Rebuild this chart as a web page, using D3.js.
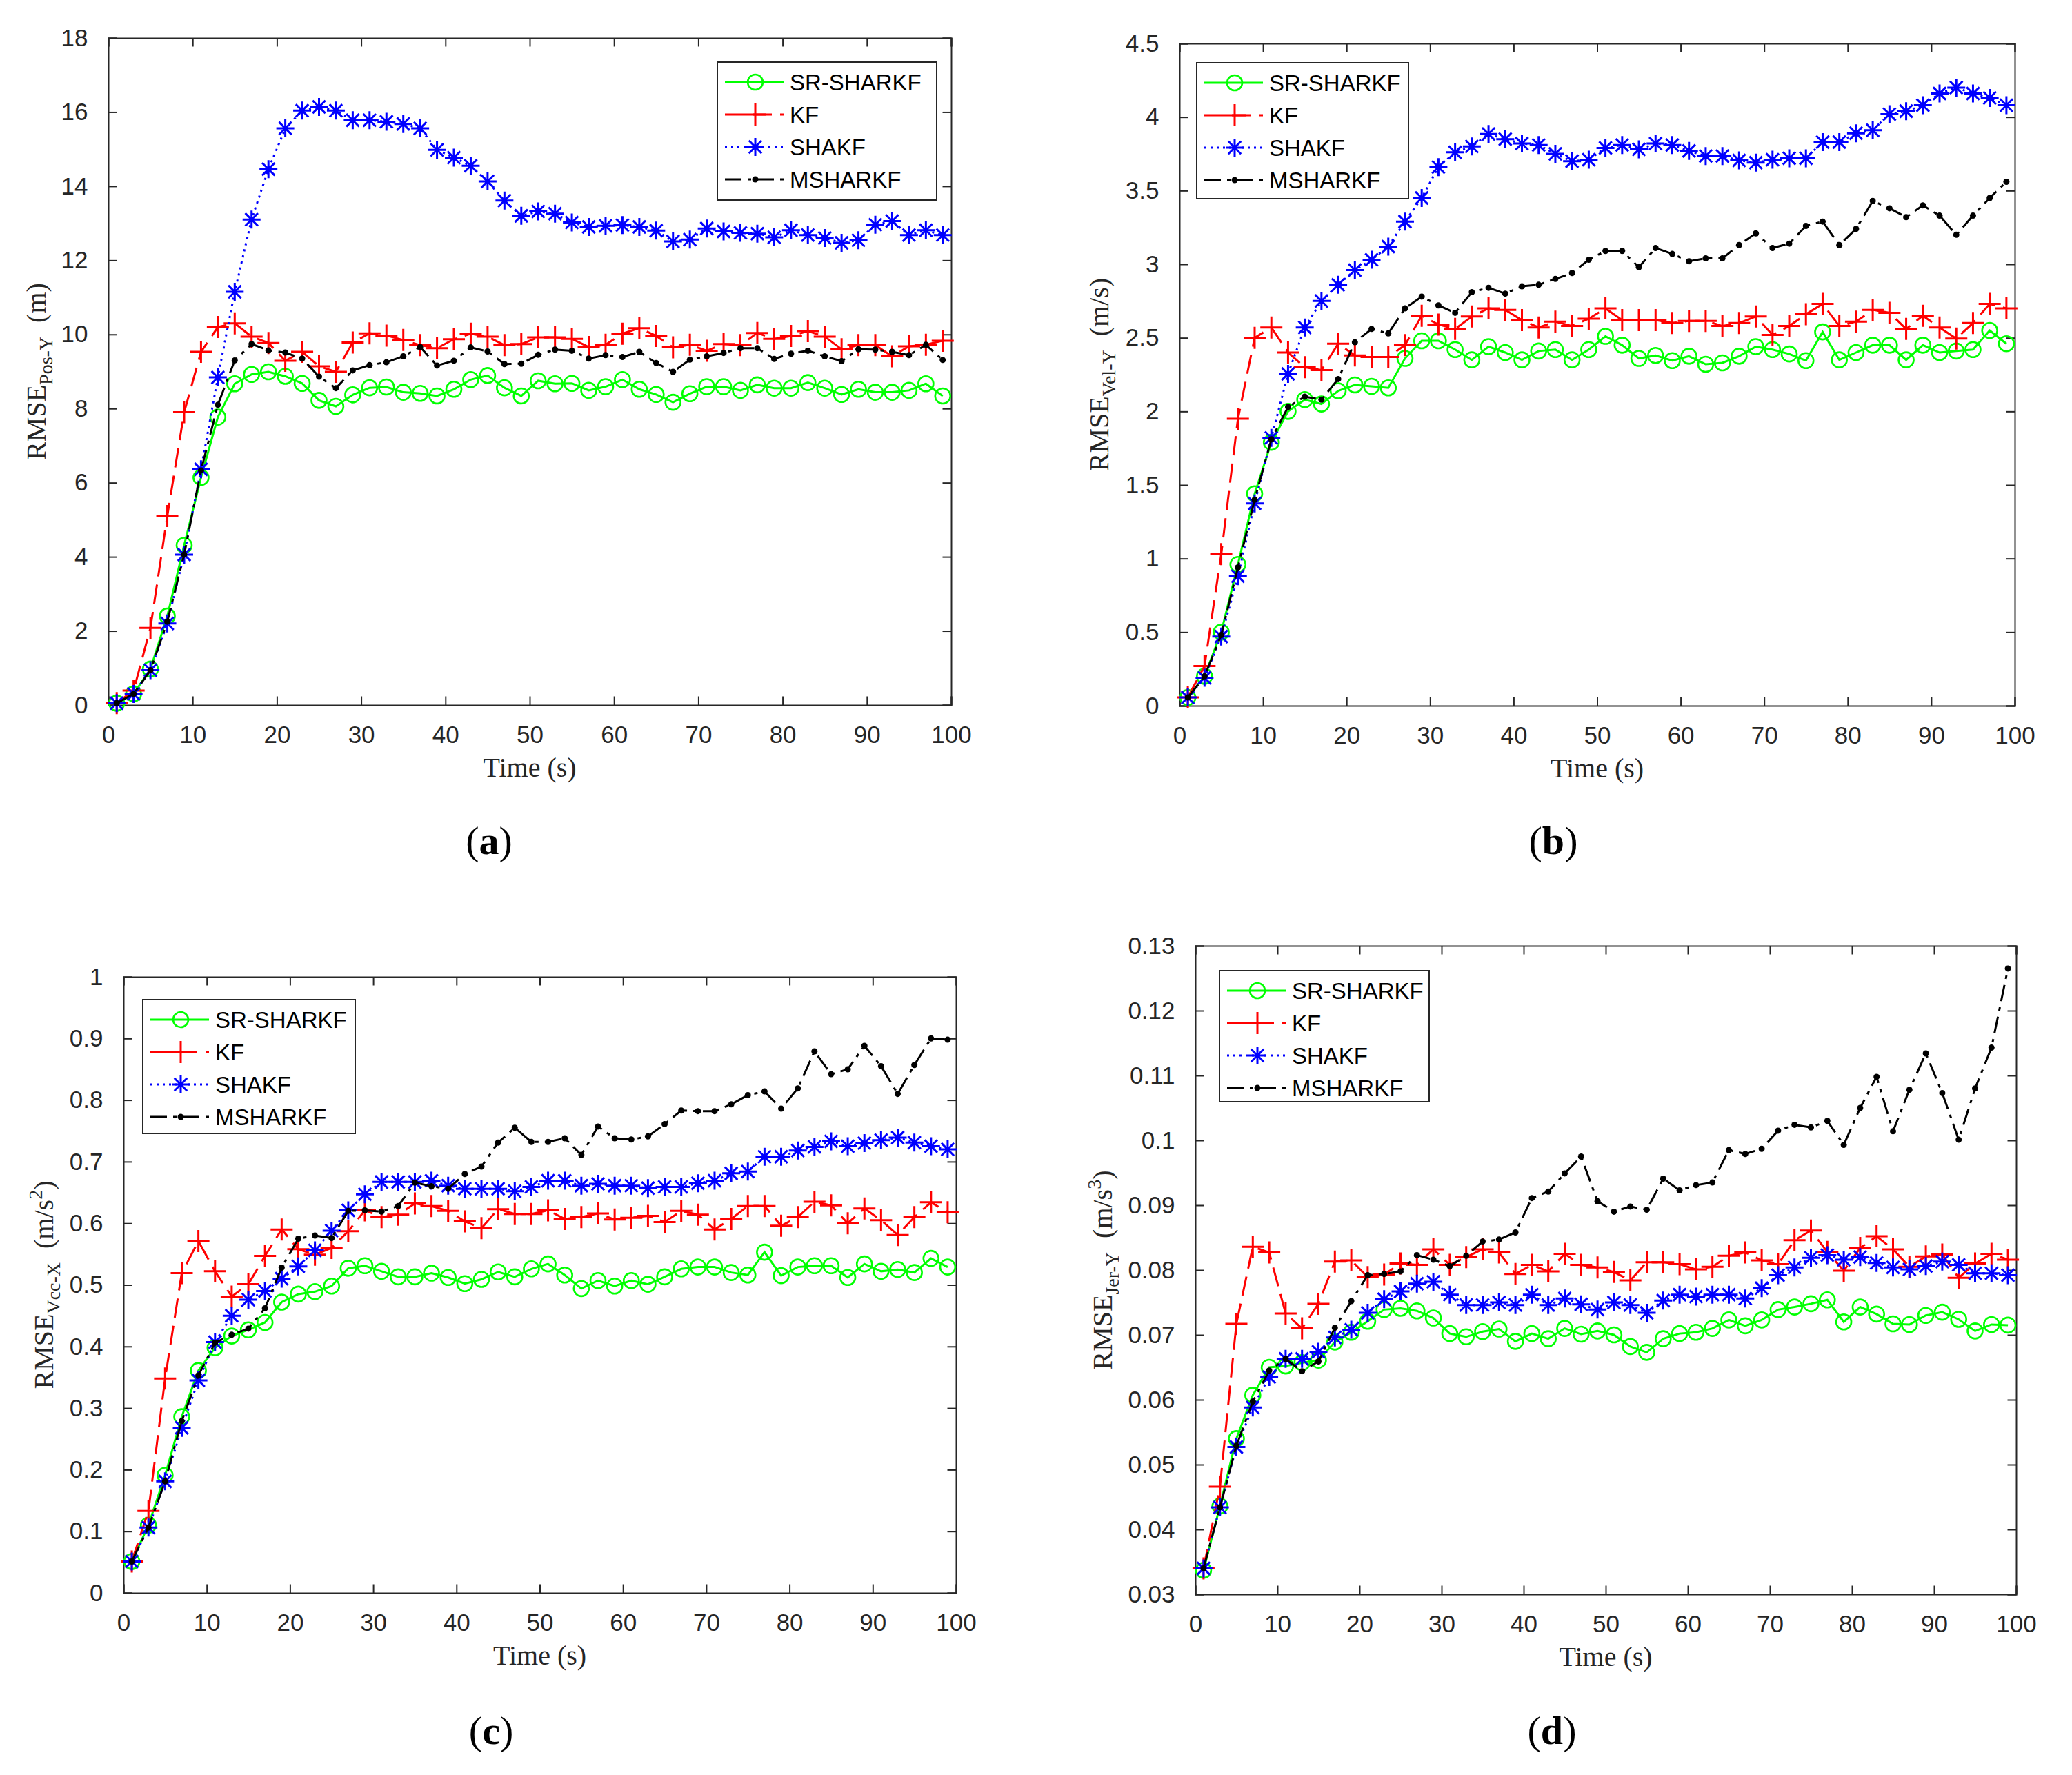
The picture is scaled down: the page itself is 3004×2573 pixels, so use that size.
<!DOCTYPE html>
<html>
<head>
<meta charset="utf-8">
<script src="https://cdn.jsdelivr.net/npm/d3@7"></script>
<style>
  body { margin: 0; background: #fff; }
</style>
</head>
<body>
<svg id="fig" width="3004" height="2573"></svg>
<script>
// ---- data -------------------------------------------------------------
var time = [1, 3, 5, 7, 9, 11, 13, 15, 17, 19, 21, 23, 25, 27, 29, 31, 33, 35, 37, 39,
  41, 43, 45, 47, 49, 51, 53, 55, 57, 59, 61, 63, 65, 67, 69, 71, 73, 75, 77, 79,
  81, 83, 85, 87, 89, 91, 93, 95, 97, 99];

var seriesNames = ['SR-SHARKF', 'KF', 'SHAKF', 'MSHARKF'];

var timeTicks = [0, 10, 20, 30, 40, 50, 60, 70, 80, 90, 100];
var posTicks = [0, 2, 4, 6, 8, 10, 12, 14, 16, 18];
var velTicks = [0, 0.5, 1, 1.5, 2, 2.5, 3, 3.5, 4, 4.5];
var accTicks = [0, 0.1, 0.2, 0.3, 0.4, 0.5, 0.6, 0.7, 0.8, 0.9, 1];
var jerTicks = [0.03, 0.04, 0.05, 0.06, 0.07, 0.08, 0.09, 0.1, 0.11, 0.12, 0.13];

// (a) position Y
var posY_SR = [0.05, 0.3, 0.97, 2.4, 4.31, 6.14, 7.77, 8.67, 8.92, 8.99, 8.87, 8.68, 8.22, 8.06, 8.37, 8.56, 8.58, 8.44, 8.41, 8.34,
  8.52, 8.78, 8.89, 8.56, 8.34, 8.75, 8.67, 8.68, 8.49, 8.59, 8.78, 8.52, 8.38, 8.17, 8.4, 8.59, 8.59, 8.49, 8.64, 8.55,
  8.55, 8.7, 8.55, 8.38, 8.52, 8.44, 8.44, 8.49, 8.67, 8.34];
var posY_KF = [0.05, 0.39, 2.08, 5.1, 7.9, 9.53, 10.2, 10.3, 9.94, 9.77, 9.29, 9.53, 9.14, 8.99, 9.78, 10.03, 9.97, 9.85, 9.71, 9.63,
  9.87, 10.02, 9.94, 9.71, 9.74, 9.92, 9.92, 9.88, 9.66, 9.72, 10.02, 10.17, 9.96, 9.65, 9.72, 9.56, 9.74, 9.71, 10.04, 9.88,
  9.96, 10.09, 9.94, 9.6, 9.71, 9.71, 9.41, 9.68, 9.72, 9.83];
var posY_SHAKF = [0.05, 0.3, 0.94, 2.2, 4.06, 6.36, 8.84, 11.15, 13.1, 14.46, 15.56, 16.04, 16.14, 16.04, 15.78, 15.78, 15.74, 15.68, 15.56, 14.98,
  14.77, 14.55, 14.13, 13.61, 13.2, 13.32, 13.26, 13.02, 12.9, 12.93, 12.95, 12.9, 12.8, 12.51, 12.56, 12.86, 12.78, 12.74, 12.72, 12.62,
  12.81, 12.68, 12.6, 12.47, 12.54, 12.96, 13.06, 12.68, 12.81, 12.68];
var posY_MS = [0.05, 0.3, 0.94, 2.25, 4.06, 6.33, 8.1, 9.3, 9.74, 9.57, 9.51, 9.35, 8.86, 8.55, 9.03, 9.17, 9.25, 9.41, 9.66, 9.16,
  9.29, 9.65, 9.54, 9.2, 9.21, 9.45, 9.59, 9.56, 9.35, 9.44, 9.39, 9.53, 9.23, 8.99, 9.32, 9.41, 9.5, 9.63, 9.63, 9.34,
  9.48, 9.56, 9.41, 9.28, 9.6, 9.59, 9.53, 9.44, 9.72, 9.31];

// (b) velocity Y
var velY_SR = [0.056, 0.2, 0.5, 0.96, 1.44, 1.79, 2.0, 2.08, 2.05, 2.14, 2.18, 2.17, 2.16, 2.36, 2.48, 2.48, 2.42, 2.35, 2.44, 2.4,
  2.35, 2.41, 2.42, 2.35, 2.42, 2.51, 2.45, 2.36, 2.38, 2.345, 2.375, 2.32, 2.33, 2.375, 2.44, 2.42, 2.39, 2.345, 2.54, 2.35,
  2.4, 2.45, 2.45, 2.35, 2.45, 2.4, 2.41, 2.42, 2.55, 2.46];
var velY_KF = [0.056, 0.27, 1.03, 1.95, 2.5, 2.57, 2.4, 2.3, 2.28, 2.46, 2.38, 2.37, 2.37, 2.45, 2.65, 2.59, 2.56, 2.645, 2.7, 2.69,
  2.62, 2.57, 2.61, 2.58, 2.63, 2.7, 2.62, 2.62, 2.62, 2.6, 2.615, 2.615, 2.58, 2.6, 2.645, 2.52, 2.58, 2.66, 2.73, 2.58,
  2.61, 2.69, 2.67, 2.56, 2.65, 2.57, 2.495, 2.6, 2.73, 2.7];
var velY_SHAKF = [0.056, 0.19, 0.47, 0.88, 1.375, 1.82, 2.255, 2.57, 2.75, 2.86, 2.96, 3.03, 3.12, 3.29, 3.45, 3.66, 3.76, 3.8, 3.885, 3.85,
  3.82, 3.81, 3.75, 3.7, 3.71, 3.79, 3.81, 3.78, 3.82, 3.81, 3.77, 3.735, 3.735, 3.705, 3.69, 3.71, 3.72, 3.72, 3.83, 3.83,
  3.89, 3.91, 4.02, 4.04, 4.08, 4.16, 4.2, 4.16, 4.13, 4.08];
var velY_MS = [0.056, 0.2, 0.48, 0.94, 1.4, 1.81, 2.03, 2.1, 2.08, 2.22, 2.47, 2.56, 2.53, 2.7, 2.78, 2.72, 2.67, 2.81, 2.84, 2.8,
  2.85, 2.86, 2.9, 2.94, 3.03, 3.09, 3.09, 2.98, 3.11, 3.07, 3.02, 3.04, 3.04, 3.13, 3.21, 3.11, 3.14, 3.26, 3.29, 3.13,
  3.24, 3.43, 3.38, 3.32, 3.4, 3.33, 3.2, 3.33, 3.45, 3.56];

// (c) acceleration X
var accX_SR = [0.051, 0.11, 0.191, 0.286, 0.361, 0.398, 0.417, 0.427, 0.439, 0.472, 0.485, 0.489, 0.498, 0.527, 0.531, 0.522, 0.513, 0.513, 0.519, 0.512,
  0.502, 0.509, 0.521, 0.513, 0.526, 0.534, 0.516, 0.494, 0.507, 0.498, 0.507, 0.501, 0.513, 0.526, 0.529, 0.529, 0.52, 0.516, 0.553, 0.515,
  0.529, 0.531, 0.531, 0.512, 0.534, 0.522, 0.525, 0.52, 0.543, 0.529];
var accX_KF = [0.051, 0.133, 0.348, 0.519, 0.571, 0.522, 0.481, 0.501, 0.547, 0.59, 0.558, 0.549, 0.56, 0.587, 0.621, 0.61, 0.614, 0.632, 0.628, 0.62,
  0.603, 0.592, 0.623, 0.615, 0.615, 0.621, 0.607, 0.61, 0.616, 0.606, 0.609, 0.612, 0.602, 0.62, 0.614, 0.59, 0.607, 0.628, 0.628, 0.596,
  0.61, 0.635, 0.629, 0.6, 0.624, 0.605, 0.581, 0.61, 0.634, 0.618];
var accX_SHAKF = [0.051, 0.106, 0.181, 0.268, 0.345, 0.407, 0.45, 0.476, 0.49, 0.51, 0.53, 0.556, 0.588, 0.621, 0.647, 0.667, 0.667, 0.667, 0.669, 0.661,
  0.656, 0.656, 0.656, 0.652, 0.659, 0.669, 0.669, 0.661, 0.664, 0.661, 0.661, 0.657, 0.659, 0.659, 0.665, 0.669, 0.681, 0.684, 0.708, 0.708,
  0.718, 0.724, 0.733, 0.725, 0.73, 0.735, 0.739, 0.731, 0.725, 0.72];
var accX_MS = [0.051, 0.106, 0.181, 0.279, 0.353, 0.406, 0.419, 0.429, 0.462, 0.528, 0.575, 0.58, 0.576, 0.62, 0.621, 0.619, 0.628, 0.666, 0.66, 0.656,
  0.68, 0.692, 0.731, 0.755, 0.732, 0.732, 0.738, 0.711, 0.757, 0.738, 0.736, 0.741, 0.761, 0.783, 0.782, 0.782, 0.793, 0.808, 0.814, 0.786,
  0.819, 0.879, 0.842, 0.85, 0.888, 0.855, 0.81, 0.857, 0.9, 0.898];

// (d) jerk Y
var jerY_SR = [0.0337, 0.0436, 0.054, 0.0607, 0.065, 0.0652, 0.0657, 0.0661, 0.0689, 0.0704, 0.0721, 0.0739, 0.0741, 0.0737, 0.0726, 0.0702, 0.0697, 0.0705, 0.0709, 0.069,
  0.0702, 0.0694, 0.071, 0.0701, 0.0706, 0.07, 0.0682, 0.0673, 0.0694, 0.0702, 0.0704, 0.071, 0.0723, 0.0714, 0.0723, 0.0739, 0.0743, 0.0748, 0.0754, 0.072,
  0.0743, 0.0732, 0.0717, 0.0716, 0.073, 0.0735, 0.0724, 0.0706, 0.0716, 0.0715];
var jerY_KF = [0.034, 0.0466, 0.0717, 0.0836, 0.0827, 0.0733, 0.071, 0.0748, 0.0813, 0.0815, 0.0789, 0.0793, 0.081, 0.0808, 0.0832, 0.0808, 0.082, 0.0832, 0.0827, 0.0794,
  0.0808, 0.0798, 0.0825, 0.0808, 0.0804, 0.0797, 0.0784, 0.0812, 0.0812, 0.0809, 0.0801, 0.0805, 0.0822, 0.0827, 0.0815, 0.0809, 0.0846, 0.0861, 0.0828, 0.0799,
  0.0834, 0.0852, 0.0832, 0.0805, 0.0821, 0.0824, 0.0788, 0.081, 0.0825, 0.0816];
var jerY_SHAKF = [0.034, 0.0434, 0.0527, 0.0588, 0.0635, 0.0663, 0.0663, 0.0674, 0.0696, 0.0708, 0.0734, 0.0755, 0.0767, 0.0779, 0.0782, 0.0762, 0.0746, 0.0746, 0.075, 0.0746,
  0.0762, 0.0746, 0.0756, 0.0747, 0.0739, 0.075, 0.0746, 0.0734, 0.0753, 0.0762, 0.0759, 0.0762, 0.0762, 0.0756, 0.0772, 0.0792, 0.0804, 0.0819, 0.0823, 0.0816,
  0.082, 0.0811, 0.0804, 0.0801, 0.0806, 0.0813, 0.0808, 0.0795, 0.0795, 0.0792];
var jerY_MS = [0.034, 0.0434, 0.0529, 0.0597, 0.0645, 0.0663, 0.0644, 0.0659, 0.0711, 0.0752, 0.0792, 0.0794, 0.0798, 0.0823, 0.0816, 0.0806, 0.0822, 0.0844, 0.0847, 0.0858,
  0.0911, 0.0921, 0.0949, 0.0975, 0.0906, 0.089, 0.0898, 0.0893, 0.0941, 0.0923, 0.0931, 0.0935, 0.0985, 0.0979, 0.0987, 0.1015, 0.1024, 0.102, 0.103, 0.0993,
  0.105, 0.1098, 0.1014, 0.1078, 0.1134, 0.1073, 0.1001, 0.108, 0.1143, 0.1265];

// ---- styles -----------------------------------------------------------
var AXIS = '#262626';
var SANS = 'Liberation Sans, Arial, Helvetica, sans-serif';
var SERIF = 'Liberation Serif, Times New Roman, serif';

var styles = [
  { color: '#00ff00', dash: null, marker: 'circle' },
  { color: '#ff0000', dash: '28,12', marker: 'plus' },
  { color: '#0000ff', dash: '3,6', marker: 'star' },
  { color: '#000000', dash: '24,9,5,9', marker: 'dot' }
];

// layout per panel (axes box: left, top, right, bottom)
var panels = [
  { tag: 'a', box: [157, 55, 1379, 1022], domain: [0, 18], ticks: posTicks,
    series: [posY_SR, posY_KF, posY_SHAKF, posY_MS],
    sub: 'Pos-Y', unit: 'm', pow: null, labelX: 66,
    legend: [1040, 90, 318, 200], tagPos: [709, 1238] },
  { tag: 'b', box: [1710, 63, 2921, 1023], domain: [0, 4.5], ticks: velTicks,
    series: [velY_SR, velY_KF, velY_SHAKF, velY_MS],
    sub: 'Vel-Y', unit: 'm/s', pow: null, labelX: 1607,
    legend: [1735, 91, 307, 197], tagPos: [2252, 1238] },
  { tag: 'c', box: [179, 1416, 1386, 2309], domain: [0, 1], ticks: accTicks,
    series: [accX_SR, accX_KF, accX_SHAKF, accX_MS],
    sub: 'Vcc-X', unit: 'm/s', pow: '2', labelX: 77,
    legend: [207, 1449, 308, 194], tagPos: [712, 2528] },
  { tag: 'd', box: [1733, 1371, 2923, 2311], domain: [0.03, 0.13], ticks: jerTicks,
    series: [jerY_SR, jerY_KF, jerY_SHAKF, jerY_MS],
    sub: 'Jer-Y', unit: 'm/s', pow: '3', labelX: 1612,
    legend: [1768, 1407, 304, 190], tagPos: [2250, 2528] }
];

var svg = d3.select('#fig');
svg.append('rect').attr('width', 3004).attr('height', 2573).attr('fill', '#fff');

var drawMarker = function(g, type, color, cx, cy) {
  if (type === 'circle') {
    g.append('circle').attr('cx', cx).attr('cy', cy).attr('r', 11)
      .attr('fill', 'none').attr('stroke', color).attr('stroke-width', 2.6);
  } else if (type === 'plus') {
    g.append('path').attr('d', 'M' + (cx - 16) + ',' + cy + 'H' + (cx + 16) + 'M' + cx + ',' + (cy - 16) + 'V' + (cy + 16))
      .attr('stroke', color).attr('stroke-width', 3).attr('fill', 'none');
  } else if (type === 'star') {
    var a = 13, b = 9.2;
    g.append('path').attr('d',
      'M' + (cx - a) + ',' + cy + 'H' + (cx + a) +
      'M' + cx + ',' + (cy - a) + 'V' + (cy + a) +
      'M' + (cx - b) + ',' + (cy - b) + 'L' + (cx + b) + ',' + (cy + b) +
      'M' + (cx - b) + ',' + (cy + b) + 'L' + (cx + b) + ',' + (cy - b))
      .attr('stroke', color).attr('stroke-width', 3).attr('fill', 'none');
  } else {
    g.append('circle').attr('cx', cx).attr('cy', cy).attr('r', 4.5).attr('fill', color);
  }
};

panels.forEach(function(p) {
  var L = p.box[0], T = p.box[1], R = p.box[2], B = p.box[3];
  var x = d3.scaleLinear().domain([0, 100]).range([L, R]);
  var y = d3.scaleLinear().domain(p.domain).range([B, T]);
  var g = svg.append('g').attr('class', 'panel-' + p.tag);

  // axes: bottom/left with labels, top/right mirror ticks, all inward
  var tl = 12.5;
  g.append('g').attr('transform', 'translate(0,' + B + ')')
    .call(d3.axisBottom(x).tickValues(timeTicks).tickSize(-tl).tickPadding(tl + 18).tickFormat(d3.format('d')));
  g.append('g').attr('transform', 'translate(0,' + T + ')')
    .call(d3.axisTop(x).tickValues(timeTicks).tickSize(-tl).tickFormat(''));
  g.append('g').attr('transform', 'translate(' + L + ',0)')
    .call(d3.axisLeft(y).tickValues(p.ticks).tickSize(-tl).tickPadding(tl + 17).tickFormat(function(d) { return String(d); }));
  g.append('g').attr('transform', 'translate(' + R + ',0)')
    .call(d3.axisRight(y).tickValues(p.ticks).tickSize(-tl).tickFormat(''));

  g.selectAll('.domain').attr('stroke', AXIS).attr('stroke-width', 2);
  g.selectAll('.tick line').attr('stroke', AXIS).attr('stroke-width', 2);
  g.selectAll('.tick text').attr('fill', AXIS).style('font-family', SANS).style('font-size', '35px');

  // series
  var line = d3.line().x(function(d) { return x(d[0]); }).y(function(d) { return y(d[1]); });
  p.series.forEach(function(vals, i) {
    var st = styles[i];
    var pts = time.map(function(t, k) { return [t, vals[k]]; });
    g.append('path').datum(pts).attr('d', line)
      .attr('fill', 'none').attr('stroke', st.color).attr('stroke-width', 3)
      .attr('stroke-dasharray', st.dash);
    var mg = g.append('g');
    pts.forEach(function(d) { drawMarker(mg, st.marker, st.color, x(d[0]), y(d[1])); });
  });

  // x label
  g.append('text').attr('x', (L + R) / 2).attr('y', B + 104)
    .attr('text-anchor', 'middle').style('font-family', SERIF).style('font-size', '40px')
    .attr('fill', AXIS).text('Time (s)');

  // y label
  var yl = g.append('text')
    .attr('transform', 'translate(' + p.labelX + ',' + (T + B) / 2 + ') rotate(-90)')
    .attr('text-anchor', 'middle').style('font-family', SERIF).style('font-size', '40px')
    .attr('fill', AXIS);
  yl.append('tspan').text('RMSE');
  yl.append('tspan').attr('dy', 10).style('font-size', '28px').text(p.sub);
  if (p.pow) {
    yl.append('tspan').attr('dy', -10).attr('dx', 20).text('(' + p.unit);
    yl.append('tspan').attr('dy', -16).style('font-size', '28px').text(p.pow);
    yl.append('tspan').attr('dy', 16).text(')');
  } else {
    yl.append('tspan').attr('dy', -10).attr('dx', 20).text('(' + p.unit + ')');
  }

  // legend
  var lx = p.legend[0], ly = p.legend[1];
  var lg = g.append('g');
  lg.append('rect').attr('x', lx).attr('y', ly).attr('width', p.legend[2]).attr('height', p.legend[3])
    .attr('fill', '#fff').attr('stroke', AXIS).attr('stroke-width', 2);
  seriesNames.forEach(function(name, i) {
    var st = styles[i];
    var cy = ly + 29 + i * 47;
    lg.append('line').attr('x1', lx + 11).attr('x2', lx + 96).attr('y1', cy).attr('y2', cy)
      .attr('stroke', st.color).attr('stroke-width', 3).attr('stroke-dasharray', st.dash);
    drawMarker(lg, st.marker, st.color, lx + 55, cy);
    lg.append('text').attr('x', lx + 105).attr('y', cy + 12)
      .style('font-family', SANS).style('font-size', '33px').attr('fill', '#000').text(name);
  });

  // panel tag
  var tg = svg.append('text').attr('x', p.tagPos[0]).attr('y', p.tagPos[1])
    .attr('text-anchor', 'middle').style('font-family', SERIF).style('font-size', '58px').attr('fill', '#000');
  tg.append('tspan').text('(');
  tg.append('tspan').style('font-weight', 'bold').text(p.tag);
  tg.append('tspan').text(')');
});
</script>
</body>
</html>
